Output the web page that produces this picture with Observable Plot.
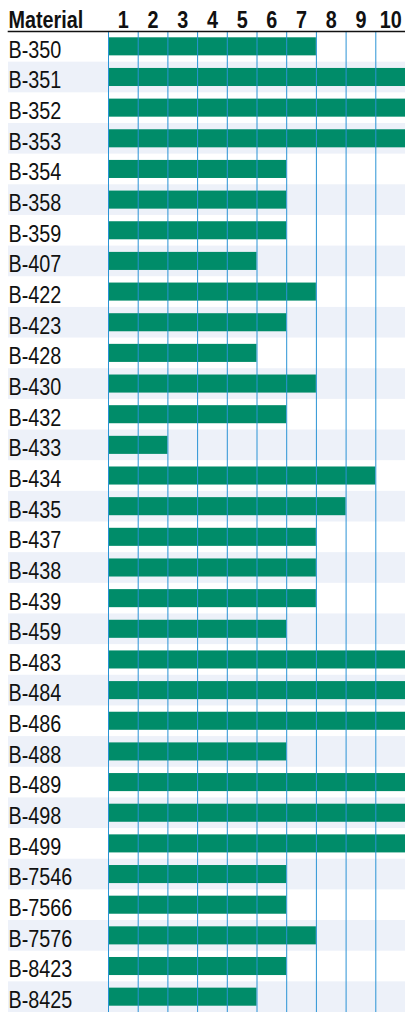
<!DOCTYPE html>
<html>
<head>
<meta charset="utf-8">
<script src="https://cdn.jsdelivr.net/npm/d3@7"></script>
<script src="https://cdn.jsdelivr.net/npm/@observablehq/plot@0.6"></script>
<style>
  html, body { margin: 0; padding: 0; background: #fff; }
  #chart svg { display: block; background: linear-gradient(to bottom, #eeeeee 0 31px, #ffffff 31px); }
</style>
</head>
<body>
<div id="chart"></div>
<script>
const materials = ["B-350","B-351","B-352","B-353","B-354","B-358","B-359","B-407","B-422","B-423","B-428","B-430","B-432","B-433","B-434","B-435","B-437","B-438","B-439","B-459","B-483","B-484","B-486","B-488","B-489","B-498","B-499","B-7546","B-7566","B-7576","B-8423","B-8425"];
const values = [7,10,10,10,6,6,6,5,7,6,5,7,6,2,9,8,7,7,7,6,10,10,10,6,10,10,10,6,6,7,6,5];
const tickLabels = ["1","2","3","4","5","6","7","8","9","10"];
const headerLabel = "Material";
const gridValues = [0,1,2,3,4,5,6,7,8,9,10];

const rows = materials.map((m, i) => ({material: m, value: values[i], index: i}));
const shaded = rows.filter(d => d.index % 2 === 1);
const FONT = "'Liberation Sans', Arial, sans-serif";

const chart = Plot.plot({
  width: 405,
  height: 1012,
  marginTop: 31,
  marginBottom: 0,
  marginLeft: 108,
  marginRight: 0,
  style: {fontFamily: FONT, background: "transparent"},
  x: {domain: [0, 10], axis: null},
  y: {domain: materials, padding: 0, round: false, axis: null},
  marks: [
    Plot.barX(shaded, {x1: 0, x2: 10, y: "material", fill: "#edf1f9", insetLeft: -100}),
    Plot.barX(rows, {x1: 0, x2: "value", y: "material", fill: "#008c69", insetTop: 6.3, insetBottom: 6.3}),
    Plot.ruleX(gridValues, {stroke: "#2a93d5", strokeWidth: 1}),
    Plot.frame({anchor: "top", stroke: "#111", strokeWidth: 1.6, insetLeft: -100}),
    Plot.text(rows, {y: "material", text: "material", frameAnchor: "left", lineAnchor: "middle", dx: -100, dy: 3.5, textAnchor: "start", fontSize: 23, fill: "#111"}),
    Plot.text(tickLabels, {x: (d, i) => i + 0.5, text: d => d, frameAnchor: "top", lineAnchor: "middle", dy: -11, fontSize: 23, fontWeight: "bold", fill: "#111"}),
    Plot.text([headerLabel], {text: d => d, frameAnchor: "top-left", lineAnchor: "middle", dx: -100, dy: -11, textAnchor: "start", fontSize: 23, fontWeight: "bold", fill: "#111"})
  ]
});
document.getElementById("chart").append(chart);

// condense glyphs horizontally (narrow typeface look)
chart.querySelectorAll("text").forEach(t => {
  const len = t.getComputedTextLength();
  if (len > 0) {
    t.setAttribute("textLength", (len * 0.86).toFixed(2));
    t.setAttribute("lengthAdjust", "spacingAndGlyphs");
  }
});
</script>
</body>
</html>
